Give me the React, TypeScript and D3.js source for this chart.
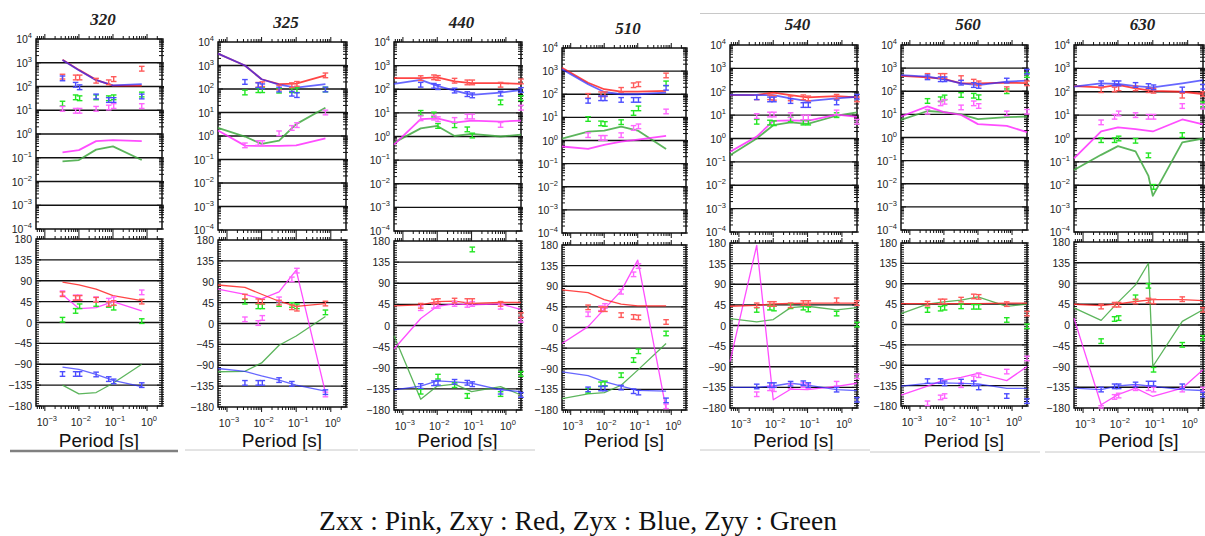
import { useEffect, useRef } from "react";
import * as d3 from "d3";

// periods of the model curve vertices and of the measured points
const modelPeriods = [0.00055, 0.0033, 0.01, 0.032, 0.075, 0.1, 0.7, 2.75];
const dataPeriods = [0.0033, 0.008, 0.0105, 0.032, 0.075, 0.105, 0.7, 2.75];
const comps = ["yy", "xx", "xy", "yx"] as const;
type Comp = (typeof comps)[number];
type Series = Record<Comp, (number | null)[]>;

const lineColor: Record<Comp, string> = { xx: "#ff2eff", xy: "#ff2424", yx: "#2626ff", yy: "#3fa83f" };
const barColor: Record<Comp, string> = { xx: "#ff66ff", xy: "#ff5a5a", yx: "#4d4dff", yy: "#22e622" };

const sites = ["320", "325", "440", "510", "540", "560", "630"];

// ---- site 320
const amp320Model: Series = {
  xx: [null, 0.17, 0.21, 0.5, null, 0.55, 0.5, null],
  xy: [null, 1350, 500, 190, null, 108, 108, null],
  yx: [null, 1300, 480, 185, null, 112, 125, null],
  yy: [null, 0.07, 0.08, 0.22, null, 0.3, 0.08, null],
};
const amp320Data: Series = {
  xx: [11.5, 9.5, 9.5, 11.5, 13, 15, 15, null],
  xy: [260, 240, 240, 175, 150, 205, 560, null],
  yx: [220, 118, 93, 38, 27, 27, 38, null],
  yy: [19, 35, 32, 35, 32, 35, 46, null],
};
const ph320Model: Series = {
  xx: [null, 60, 30, 32, null, 45, 25, null],
  xy: [null, 87, 81, 72, null, 58, 47, null],
  yx: [null, -96, -101, -112, null, -125, -138, null],
  yy: [null, -135, -154, -151, null, -131, -90, null],
};
const ph320Data: Series = {
  xx: [63, 54, 54, 50, 47, 50, 65, null],
  xy: [61, 53, 53, 49, 40, 42, 45, null],
  yx: [-111, -111, -111, -112, -122, -127, -135, null],
  yy: [6, 25, 35, 40, 38, 32, 3, null],
};

// ---- site 325
const amp325Model: Series = {
  xx: [1.7, 0.39, 0.38, 0.38, null, 0.4, 0.8, null],
  xy: [3200, 1000, 260, 160, null, 170, 380, null],
  yx: [3200, 1000, 260, 155, null, 115, 160, null],
  yy: [2.2, 0.95, 0.46, 0.63, null, 3.2, 16, null],
};
const amp325Data: Series = {
  xx: [0.4, 0.5, 0.5, 1.3, 2.2, 2.9, 10, null],
  xy: [null, 150, 160, 115, 145, 165, 380, null],
  yx: [200, 145, 130, 95, 63, 55, 95, null],
  yy: [71, 89, 89, 85, 89, 89, 95, null],
};
const ph325Model: Series = {
  xx: [74, 63, 53, 68, null, 115, -149, null],
  xy: [83, 78, 63, 48, null, 37, 43, null],
  yx: [-97, -103, -113, -122, null, -133, -146, null],
  yy: [-104, -103, -85, -47, null, -27, 15, null],
};
const ph325Data: Series = {
  xx: [9, 1, 12, 52, 95, 114, -153, null],
  xy: [58, 48, 47, 45, 35, 32, 43, null],
  yx: [-128, -128, -128, -122, -130, null, -148, null],
  yy: [47, 37, 37, 42, 40, 37, 24, null],
};

// ---- site 440
const amp440Model: Series = {
  xx: [0.45, 5.4, 5.9, 3.9, null, 4.7, 4.3, 4.7],
  xy: [295, 295, 320, 215, null, 180, 180, 170],
  yx: [170, 250, 140, 88, null, 58, 72, 93],
  yy: [0.55, 2.2, 2.8, 1.05, null, 1.3, 1.0, 1.2],
};
const amp440Data: Series = {
  xx: [5.9, 6.3, 5.4, 5.0, 7, 7, 3.1, 16.6],
  xy: [295, 320, 300, 230, 195, 195, 155, 215],
  yx: [155, 140, 123, 88, 62, 55, 65, 93],
  yy: [10, 8.5, 2.8, 3.0, 2.0, 1.1, 28, 42],
};
const ph440Model: Series = {
  xx: [-50, 15, 41, 46, null, 44, 46, 34],
  xy: [42, 44, 51, 52, null, 47, 49, 49],
  yx: [-137, -129, -118, -120, null, -123, -137, -141],
  yy: [-22, -157, -129, -125, null, -141, -130, -148],
};
const ph440Data: Series = {
  xx: [37, 42, 42, 46, 44, 46, 40, 12],
  xy: [42, 51, 52, 53, 52, 52, 46, 22],
  yx: [-129, -123, -122, -120, -122, -125, -141, -148],
  yy: [-141, null, -109, -127, -150, 162, -146, -103],
};

// ---- site 510
const amp510Model: Series = {
  xx: [0.55, 0.43, 0.65, 0.9, null, 1.1, 1.6, null],
  xy: [1400, 315, 165, 130, null, 130, 140, null],
  yx: [1200, 270, 125, 100, null, 100, 117, null],
  yy: [1.2, 2.4, 2.7, 4.0, null, 2.7, 0.43, null],
};
const amp510Data: Series = {
  xx: [1.7, 1.3, 1.3, 1.7, 3.5, 4.1, 18, null],
  xy: [85, 100, 100, 155, 245, 270, 650, null],
  yx: [52, 67, 67, 57, 57, 57, 190, null],
  yy: [8.5, 5.5, 5.2, 6.2, 15.5, 24.5, 295, null],
};
const ph510Model: Series = {
  xx: [-35, 2, 40, 80, null, 147, -178, null],
  xy: [82, 76, 61, 51, null, 47, 47, null],
  yx: [-97, -105, -118, -128, null, -137, -139, null],
  yy: [-155, -145, -142, -126, null, -93, -35, null],
};
const ph510Data: Series = {
  xx: [29, 42, 47, 78, 116, 134, -172, null],
  xy: [44, 40, 40, 27, 23, 22, 12, null],
  yx: [-135, -133, -133, -131, -139, -142, -159, null],
  yy: [-138, -124, -122, -104, -71, -52, -13, null],
};

// ---- site 540
const amp540Model: Series = {
  xx: [0.27, 1.2, 5.7, 6.0, null, 5.7, 10.6, 8.5],
  xy: [72, 74, 91, 72, null, 58, 65, 58],
  yx: [74, 72, 72, 52, null, 40, 52, 61],
  yy: [0.19, 1.0, 3.7, 4.9, null, 4.2, 9.4, 13],
};
const amp540Data: Series = {
  xx: [9.1, 10.6, 10.6, 10, 8, 8, 13, 5.2],
  xy: [58, 58, 55, 52, 58, 52, 61, 47],
  yx: [58, 47, 47, 40, 27, 27, 35, 61],
  yy: [5.2, 4.8, 4.5, 6.5, 4.8, 4.8, 10, null],
};
const ph540Model: Series = {
  xx: [-79, 175, -162, -139, null, -140, -133, -126],
  xy: [42, 44, 47, 48, null, 49, 49, 49],
  yx: [-135, -135, -132, -126, null, -130, -140, -142],
  yy: [15, 8, 13, 39, null, 42, 34, 39],
};
const ph540Data: Series = {
  xx: [-150, -137, -139, -133, -130, -133, -127, -111],
  xy: [44, 47, 47, 44, 49, 49, 55, 49],
  yx: [-133, -130, -130, -127, -126, -130, -140, -162],
  yy: [34, 39, 37, 42, 39, 35, 26, 2],
};

// ---- site 560
const amp560Model: Series = {
  xx: [8.1, 22, 12.4, 9.5, null, 3.8, 3.2, 1.7],
  xy: [460, 400, 340, 220, null, 220, 235, 225],
  yx: [500, 430, 330, 220, null, 185, 260, 290],
  yy: [5.8, 14, 12.4, 10, null, 6.2, 7.6, 8.1],
};
const amp560Data: Series = {
  xx: [13, 30, 35, 20, 30, 23, 11, 13],
  xy: [460, 460, 460, 370, 260, 220, 123, 220],
  yx: [400, 330, 330, 235, 185, 170, 290, 700],
  yy: [38, 45, 54, 69, 64, 55, 100, 500],
};
const ph560Model: Series = {
  xx: [-156, -136, -123, -117, null, -108, -124, -93],
  xy: [46, 46, 46, 46, null, 46, 47, 47],
  yx: [-136, -130, -129, -130, null, -131, -141, -141],
  yy: [24, 45, 50, 54, null, 61, 40, 45],
};
const ph560Data: Series = {
  xx: [-174, -161, -158, -134, -119, -112, -104, -75],
  xy: [46, 51, 51, 55, 62, 61, 45, 24],
  yx: [-125, -125, -130, -126, -130, -139, -158, -169],
  yy: [32, 35, 37, 40, 39, 39, 10, -4],
};

// ---- site 630
const amp630Model: Series = {
  xx: [0.14, 2.0, 3.0, 2.5, null, 2.0, 6.5, 4.0],
  xy: [175, 155, 195, 140, null, 110, 100, 80],
  yx: [165, 230, 215, 175, null, 155, 230, 315],
  yy: [0.045, 0.2, 0.47, 0.28, 0.025, 0.0035, 0.68, 1.0],
};
const amp630Data: Series = {
  xx: [4.9, 8.5, 11.8, 10, 8.5, 8.5, 24.5, 23],
  xy: [117, 125, 140, 140, 117, 110, 68, 80],
  yx: [230, 230, 230, 195, 175, 155, 125, 165],
  yy: [0.85, 0.85, 1.0, 0.8, 0.19, 0.0085, 1.4, 29],
};
const ph630Model: Series = {
  xx: [15, -173, -151, -137, null, -155, -137, -97],
  xy: [45, 42, 46, 51, null, 55, 55, 53],
  yx: [-137, -140, -132, -129, null, -133, -140, -142],
  yy: [37, 10, 49, 87, 134, -90, 8, 33],
};
const ph630Data: Series = {
  xx: [-180, -156, -153, -137, -137, -140, -140, -140],
  xy: [40, 44, 44, 51, 53, 51, 56, 33],
  yx: [-140, -133, -133, -129, -127, -127, -133, -151],
  yy: [-35, 13, 15, 60, 85, -97, -43, -28],
};

const siteSeries = [
  [amp320Model, amp320Data, ph320Model, ph320Data],
  [amp325Model, amp325Data, ph325Model, ph325Data],
  [amp440Model, amp440Data, ph440Model, ph440Data],
  [amp510Model, amp510Data, ph510Model, ph510Data],
  [amp540Model, amp540Data, ph540Model, ph540Data],
  [amp560Model, amp560Data, ph560Model, ph560Data],
  [amp630Model, amp630Data, ph630Model, ph630Data],
];

const ampDecades = [-4, -3, -2, -1, 0, 1, 2, 3, 4];
const phaseTicks = [180, 135, 90, 45, 0, -45, -90, -135, -180];
const periodDecades = [-3, -2, -1, 0];
const caption = "Zxx : Pink, Zxy : Red, Zyx : Blue, Zyy : Green";

// panel boxes (pixel layout of the cropped figure)
const layout = [
  { x0: 36, x1: 162, aT: 39, aB: 229, pT: 239, pB: 406, tY: 25, rule: [10, 178, 451, "#808080", 2.5] },
  { x0: 218, x1: 346, aT: 42, aB: 230, pT: 240, pB: 407, tY: 28, rule: [185, 358, 450, "#c8c8c8", 1] },
  { x0: 394, x1: 521, aT: 42, aB: 231, pT: 241, pB: 410, tY: 28, rule: [360, 535, 450, "#c8c8c8", 1] },
  { x0: 562, x1: 686, aT: 48, aB: 233, pT: 245, pB: 410, tY: 34, rule: null },
  { x0: 730, x1: 857, aT: 45, aB: 232, pT: 243, pB: 408, tY: 30, rule: [700, 870, 450, "#c8c8c8", 1] },
  { x0: 901, x1: 1027, aT: 45, aB: 230, pT: 243, pB: 406, tY: 30, rule: [870, 1040, 452, "#c8c8c8", 1] },
  { x0: 1074, x1: 1203, aT: 45, aB: 232, pT: 242, pB: 408, tY: 30, rule: [1045, 1205, 452, "#c8c8c8", 1] },
];

const sans = "'Liberation Sans', Arial, sans-serif";
const serif = "'Liberation Serif', 'Times New Roman', serif";

function supLabel(sel: d3.Selection<SVGTextElement, unknown, null, undefined>, exp: number) {
  sel.append("tspan").text("10");
  sel
    .append("tspan")
    .attr("dy", -5)
    .attr("font-size", 7.5)
    .text(exp < 0 ? `\u2212${-exp}` : `${exp}`);
}

export default function App() {
  const svgRef = useRef<SVGSVGElement>(null);

  useEffect(() => {
    if (!svgRef.current) return;
    const svg = d3.select(svgRef.current);
    svg.selectAll("*").remove();

    svg.append("rect").attr("width", 1205).attr("height", 536).attr("fill", "#fff");
    svg.append("line").attr("x1", 700).attr("x2", 1205).attr("y1", 13.5).attr("y2", 13.5)
      .attr("stroke", "#c8c8c8").attr("stroke-width", 1);

    layout.forEach((p, si) => {
      const [ampModel, ampData, phModel, phData] = siteSeries[si];
      const g = svg.append("g");
      const x = d3.scaleLog().domain([5.5e-4, 2.75]).range([p.x0, p.x1]);
      const yA = d3.scaleLog().domain([1e-4, 1e4]).range([p.aB, p.aT]);
      const yP = d3.scaleLinear().domain([-180, 180]).range([p.pB, p.pT]);
      const [xmin, xmax] = x.domain();

      // title
      g.append("text")
        .attr("x", (p.x0 + p.x1) / 2 + 4)
        .attr("y", p.tY)
        .attr("text-anchor", "middle")
        .attr("font-family", serif)
        .attr("font-style", "italic")
        .attr("font-weight", "bold")
        .attr("font-size", 17)
        .attr("fill", "#222")
        .text(sites[si]);

      // horizontal grid lines
      ampDecades.slice(1, -1).forEach((d) => {
        g.append("line").attr("x1", p.x0).attr("x2", p.x1)
          .attr("y1", yA(10 ** d)).attr("y2", yA(10 ** d))
          .attr("stroke", "#111").attr("stroke-width", 1.3);
      });
      phaseTicks.slice(1, -1).forEach((d) => {
        g.append("line").attr("x1", p.x0).attr("x2", p.x1)
          .attr("y1", yP(d)).attr("y2", yP(d))
          .attr("stroke", "#111").attr("stroke-width", 1.3);
      });

      // x ticks (outward, top and bottom of both boxes)
      const xTicks: { v: number; major: boolean }[] = [];
      for (let d = -4; d <= 0; d++) {
        for (let k = 1; k <= 9; k++) {
          const v = k * 10 ** d;
          if (v >= xmin && v <= xmax) xTicks.push({ v, major: k === 1 });
        }
      }
      [
        [p.aT, -1],
        [p.aB, 1],
        [p.pT, -1],
        [p.pB, 1],
      ].forEach(([yy, dir]) => {
        xTicks.forEach((t) => {
          g.append("line").attr("x1", x(t.v)).attr("x2", x(t.v))
            .attr("y1", yy).attr("y2", yy + dir * (t.major ? 5 : 3))
            .attr("stroke", "#111").attr("stroke-width", 1);
        });
      });

      // y ticks (left inward, right both sides)
      const ampMinor: { v: number; major: boolean }[] = [];
      for (let d = -4; d < 4; d++) for (let k = 1; k <= 9; k++) ampMinor.push({ v: k * 10 ** d, major: k === 1 });
      ampMinor.push({ v: 1e4, major: true });
      ampMinor.forEach((t) => {
        const yy = yA(t.v);
        const len = t.major ? 5 : 3;
        g.append("line").attr("x1", p.x0).attr("x2", p.x0 + len).attr("y1", yy).attr("y2", yy)
          .attr("stroke", "#111").attr("stroke-width", 1);
        g.append("line").attr("x1", p.x1 - len).attr("x2", p.x1 + 2).attr("y1", yy).attr("y2", yy)
          .attr("stroke", "#111").attr("stroke-width", 1);
      });
      d3.range(-180, 181, 5).forEach((v) => {
        const yy = yP(v);
        const len = v % 45 === 0 ? 5 : 3;
        g.append("line").attr("x1", p.x0).attr("x2", p.x0 + len).attr("y1", yy).attr("y2", yy)
          .attr("stroke", "#111").attr("stroke-width", 1);
        g.append("line").attr("x1", p.x1 - len).attr("x2", p.x1 + 2).attr("y1", yy).attr("y2", yy)
          .attr("stroke", "#111").attr("stroke-width", 1);
      });

      // boxes
      [
        [p.aT, p.aB],
        [p.pT, p.pB],
      ].forEach(([t, b]) => {
        g.append("rect").attr("x", p.x0).attr("y", t).attr("width", p.x1 - p.x0).attr("height", b - t)
          .attr("fill", "none").attr("stroke", "#111").attr("stroke-width", 1.5);
      });

      // y labels
      ampDecades.forEach((d) => {
        const t = g.append("text")
          .attr("x", p.x0 - 4)
          .attr("y", yA(10 ** d) + 4)
          .attr("text-anchor", "end")
          .attr("font-family", sans)
          .attr("font-size", 10.5)
          .attr("fill", "#222");
        supLabel(t, d);
      });
      phaseTicks.forEach((d) => {
        g.append("text")
          .attr("x", p.x0 - 4)
          .attr("y", yP(d) + 4)
          .attr("text-anchor", "end")
          .attr("font-family", sans)
          .attr("font-size", 10.5)
          .attr("fill", "#222")
          .text(d < 0 ? `\u2212${-d}` : `${d}`);
      });

      // x labels
      periodDecades.forEach((d) => {
        const t = g.append("text")
          .attr("x", x(10 ** d) + 2)
          .attr("y", p.pB + 20)
          .attr("text-anchor", "middle")
          .attr("font-family", sans)
          .attr("font-size", 10.5)
          .attr("fill", "#222");
        supLabel(t, d);
      });
      g.append("text")
        .attr("x", (p.x0 + p.x1) / 2)
        .attr("y", 447)
        .attr("text-anchor", "middle")
        .attr("font-family", sans)
        .attr("font-size", 19)
        .attr("fill", "#111")
        .text("Period [s]");

      if (p.rule) {
        const [rx0, rx1, ry, rc, rw] = p.rule as [number, number, number, string, number];
        g.append("line").attr("x1", rx0).attr("x2", rx1).attr("y1", ry).attr("y2", ry)
          .attr("stroke", rc).attr("stroke-width", rw);
      }

      // model curves
      const drawModel = (series: Series, yScale: (v: number) => number, width: number) => {
        comps.forEach((c) => {
          const pts = modelPeriods
            .map((per, i) => [per, series[c][i]] as [number, number | null])
            .filter((d): d is [number, number] => d[1] != null);
          g.append("path")
            .attr("d", d3.line<[number, number]>().x((d) => x(d[0])).y((d) => yScale(d[1]))(pts) ?? "")
            .attr("fill", "none")
            .attr("stroke", lineColor[c])
            .attr("stroke-width", width)
            .attr("stroke-opacity", c === "yx" ? 0.7 : 0.85)
            .attr("stroke-linejoin", "round");
        });
      };
      drawModel(ampModel, yA, 1.8);
      drawModel(phModel, yP, 1.3);

      // data error bars
      const drawData = (series: Series, lo: (v: number) => number, hi: (v: number) => number) => {
        comps.forEach((c) => {
          dataPeriods.forEach((per, i) => {
            const v = series[c][i];
            if (v == null) return;
            const cx = x(per);
            const y1 = lo(v);
            const y2 = hi(v);
            const col = barColor[c];
            g.append("line").attr("x1", cx).attr("x2", cx).attr("y1", y1).attr("y2", y2)
              .attr("stroke", col).attr("stroke-width", 1.4);
            [y1, y2].forEach((yy) => {
              g.append("line").attr("x1", cx - 2.8).attr("x2", cx + 2.8).attr("y1", yy).attr("y2", yy)
                .attr("stroke", col).attr("stroke-width", 1.4);
            });
          });
        });
      };
      drawData(ampData, (v) => yA(v / 10 ** 0.1), (v) => yA(v * 10 ** 0.1));
      drawData(phData, (v) => yP(Math.max(-180, v - 5)), (v) => yP(Math.min(180, v + 5)));
    });

    svg.append("text")
      .attr("x", 578)
      .attr("y", 530)
      .attr("text-anchor", "middle")
      .attr("font-family", serif)
      .attr("font-size", 27.5)
      .attr("fill", "#111")
      .text(caption);
  }, []);

  return (
    <svg
      ref={svgRef}
      width={1205}
      height={536}
      style={{ position: "absolute", left: 0, top: 0 }}
    />
  );
}
